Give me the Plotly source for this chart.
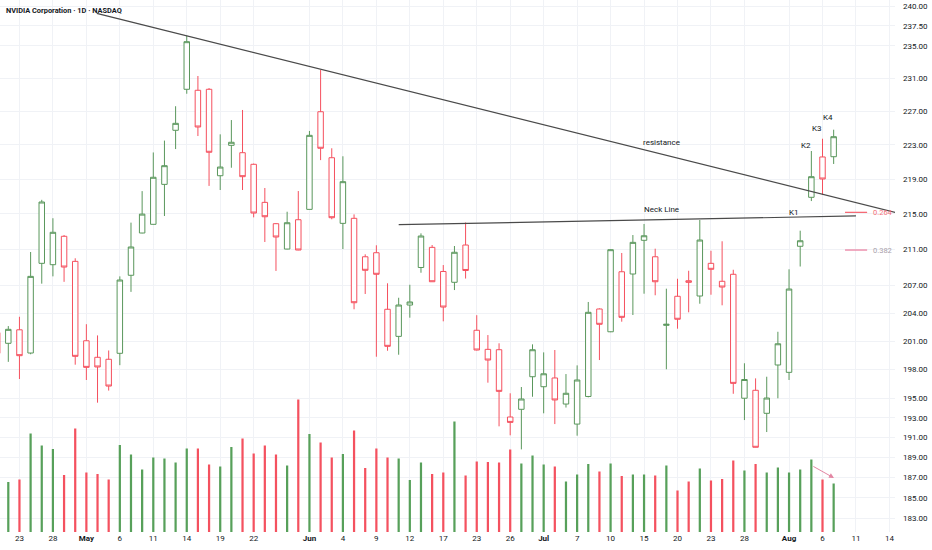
import math
import plotly.graph_objects as go

# bar index (trading days, -1 is the cut-off bar at the left edge)
bar_idx = list(range(-1, 75))

opens = [201.9, 200.76, 202.2, 199.73, 209.44, 209.29, 212.46, 209.66, 201.03, 199.28, 199.07,
         199.70, 208.12, 212.83, 213.81, 218.38, 224.72, 229.65, 229.53, 229.65, 219.38,
         222.94, 222.07, 220.71, 216.31, 213.88, 211.03, 214.33, 215.51, 226.94, 221.48,
         213.92, 214.49, 210.17, 210.62, 204.41, 201.50, 204.87, 208.98, 211.22, 208.54,
         207.35, 211.48, 202.15, 200.12, 200.08, 193.08, 193.87, 197.24, 196.20, 197.11,
         194.41, 192.36, 195.19, 204.44, 201.99, 208.51, 208.26, 212.01, 210.17, 202.68,
         205.82, 207.52, 205.85, 209.44, 207.46, 208.23, 195.01, 195.83, 193.46, 198.47,
         197.70, 211.34, 216.89, 221.57, 221.60]
highs = [202.4, 202.6, 203.6, 210.7, 216.6, 214.5, 212.6, 210.0, 202.8, 201.6, 200.0,
         208.0, 214.0, 217.6, 222.1, 223.5, 227.6, 236.25, 231.27, 229.8, 224.24,
         225.94, 227.15, 220.8, 217.96, 213.95, 215.24, 217.61, 224.64, 232.0, 222.59,
         221.65, 214.94, 210.44, 211.45, 207.24, 205.66, 207.08, 212.79, 211.48, 209.25,
         211.37, 214.02, 203.77, 201.64, 200.76, 195.52, 196.17, 200.65, 199.80, 200.05,
         197.52, 198.43, 205.2, 204.51, 211.0, 210.59, 212.6, 213.85, 211.07, 206.65,
         207.74, 208.62, 214.3, 210.84, 211.9, 208.73, 198.65, 197.07, 197.24, 201.99,
         208.78, 213.09, 222.27, 223.72, 224.79]
lows = [199.0, 198.8, 197.0, 199.6, 207.2, 208.0, 207.4, 198.5, 196.9, 194.55, 195.8,
        198.45, 206.3, 212.8, 213.8, 214.75, 222.5, 229.11, 224.04, 218.2, 217.73,
        220.31, 217.73, 214.6, 211.82, 208.6, 211.0, 210.9, 215.5, 221.2, 214.38,
        211.03, 204.41, 206.07, 199.34, 199.97, 199.55, 203.5, 208.4, 207.4, 203.11,
        206.5, 207.76, 200.0, 196.62, 192.13, 191.22, 189.8, 195.16, 193.46, 192.36,
        194.05, 191.18, 195.1, 198.99, 201.95, 203.07, 203.79, 206.1, 205.93, 198.02,
        202.32, 204.08, 205.01, 205.99, 204.84, 195.47, 192.77, 190.0, 191.55, 195.0,
        196.9, 209.09, 216.46, 217.15, 220.75]
closes = [199.7, 202.25, 199.45, 208.0, 216.35, 212.91, 209.03, 199.38, 198.22, 198.26, 196.27,
          207.60, 211.26, 214.97, 219.20, 220.55, 225.55, 235.51, 225.11, 222.12, 220.39,
          223.30, 219.27, 215.09, 214.67, 212.38, 213.99, 210.92, 224.12, 222.59, 214.56,
          218.69, 205.12, 208.67, 208.23, 200.44, 204.87, 205.20, 212.49, 207.41, 204.65,
          210.67, 208.65, 200.05, 198.99, 195.72, 192.53, 194.93, 200.08, 197.55, 194.83,
          195.52, 196.90, 204.08, 202.79, 210.96, 203.54, 211.78, 212.52, 207.41, 202.79,
          203.33, 207.35, 212.04, 208.78, 206.83, 196.55, 196.95, 190.01, 195.03, 200.71,
          206.61, 211.96, 219.27, 219.00, 223.96]
volumes = [120, 100, 105, 197, 173, 166, 114, 207, 119, 116, 105,
           174, 155, 125, 149, 147, 139, 167, 167, 135, 131,
           170, 187, 157, 173, 155, 133, 265, 196, 179, 149,
           156, 203, 128, 167, 149, 147, 104, 139, 116, 119,
           221, 113, 141, 140, 139, 165, 137, 153, 135, 131,
           101, 115, 136, 121, 137, 112, 115, 115, 113, 133,
           83, 101, 127, 103, 106, 143, 123, 136, 119, 129,
           119, 125, 145, 105, 97]

tick_pos = [1, 4, 7, 10, 13, 16, 19, 22, 27, 30, 33, 36, 39, 42, 45, 48, 51, 54, 57, 60,
            63, 66, 70, 73, 76, 79]
tick_text = ["23", "28", "<b>May</b>", "6", "11", "14", "19", "22", "<b>Jun</b>", "4", "9",
             "12", "17", "23", "26", "<b>Jul</b>", "7", "10", "15", "20", "23", "28",
             "<b>Aug</b>", "6", "11", "14"]
price_ticks = [240, 237.5, 235, 231, 227, 223, 219, 215, 211, 207, 204, 201, 198, 195,
               193, 191, 189, 187, 185, 183]

# drawn lines (index, price)
resist_x = [7.93, 79.7]
resist_y = [239.07, 215.1]
neck_x = [35.0, 76.0]
neck_y = [213.77, 214.76]
fib_levels = [("0.264", 215.17), ("0.382", 210.92)]

GREEN = "#5a975c"
RED = "#f5505e"
VOL_GREEN = "#57a05a"
VOL_RED = "#f4515f"
TXT = "#131722"
GRID = "#f0f2f6"

vol_colors = [VOL_GREEN if c >= o else VOL_RED for o, c in zip(opens, closes)]

fig = go.Figure()

fig.add_trace(go.Bar(
    x=bar_idx, y=volumes, width=0.2, marker=dict(color=vol_colors, line=dict(width=0)),
    yaxis="y2", hoverinfo="skip", showlegend=False
))

fig.add_trace(go.Candlestick(
    x=bar_idx, open=opens, high=highs, low=lows, close=closes,
    increasing=dict(line=dict(color=GREEN, width=1), fillcolor="white"),
    decreasing=dict(line=dict(color=RED, width=1), fillcolor="white"),
    whiskerwidth=0, showlegend=False
))

fig.add_trace(go.Scatter(x=resist_x, y=resist_y, mode="lines",
                         line=dict(color="#4a4a4a", width=1.2), hoverinfo="skip", showlegend=False))
fig.add_trace(go.Scatter(x=neck_x, y=neck_y, mode="lines",
                         line=dict(color="#4a4a4a", width=1.2), hoverinfo="skip", showlegend=False))

fib_line_colors = ["#f5606c", "#e9799c"]
fib_text_colors = ["#f36f78", "#a9a1aa"]
annotations = []
for (name, lvl), lc, tc in zip(fib_levels, fib_line_colors, fib_text_colors):
    fig.add_trace(go.Scatter(x=[75.02, 77.0], y=[lvl, lvl], mode="lines",
                             line=dict(color=lc, width=1.2), hoverinfo="skip", showlegend=False))
    annotations.append(dict(x=77.35, y=math.log10(lvl), text=name, showarrow=False,
                            xanchor="left", yanchor="middle",
                            font=dict(size=7.5, color=tc)))

labels = [("resistance", 58.58, 223.3), ("Neck Line", 58.52, 215.51),
          ("K1", 70.4, 215.2), ("K2", 71.5, 222.89), ("K3", 72.5, 224.99), ("K4", 73.5, 226.22)]
for txt, lx, ly in labels:
    annotations.append(dict(x=lx, y=math.log10(ly), text=txt, showarrow=False,
                            xanchor="center", yanchor="middle",
                            font=dict(size=8, color=TXT)))

annotations.append(dict(x=0.005, y=0.98, xref="paper", yref="paper",
                        text="<b>NVIDIA Corporation · 1D · NASDAQ</b>", showarrow=False,
                        xanchor="left", yanchor="middle",
                        font=dict(size=7.4, color=TXT, family="Roboto")))

annotations.append(dict(x=74.03, y=108, xref="x", yref="y2", ax=72.05, ay=132.8,
                        axref="x", ayref="y2", text="", showarrow=True,
                        arrowhead=2, arrowsize=1, arrowwidth=1, arrowcolor="#e386a3"))

fig.update_layout(
    width=932, height=550,
    margin=dict(l=0, r=37, t=0, b=18),
    paper_bgcolor="white", plot_bgcolor="white",
    font=dict(family="Roboto", size=8, color=TXT),
    showlegend=False,
    annotations=annotations,
    xaxis=dict(range=[-0.744, 79.5], tickvals=tick_pos, ticktext=tick_text,
               showgrid=True, gridcolor=GRID, zeroline=False, showline=False,
               rangeslider=dict(visible=False), ticks="", tickfont=dict(size=8, color=TXT)),
    yaxis=dict(type="log", side="right", range=[2.259306, 2.381590],
               tickvals=price_ticks, ticktext=[f"{v:.2f}" for v in price_ticks],
               showgrid=True, gridcolor=GRID, zeroline=False, showline=False, ticks="",
               ticklabelstandoff=7, tickfont=dict(size=8, color=TXT)),
    yaxis2=dict(overlaying="y", range=[0, 1064], visible=False),
)

# the page's default body margin would shift the chart, so drop it
fig.write_html("out.html", config={"displayModeBar": False},
               post_script="document.body.style.margin='0';document.body.style.overflow='hidden';")
